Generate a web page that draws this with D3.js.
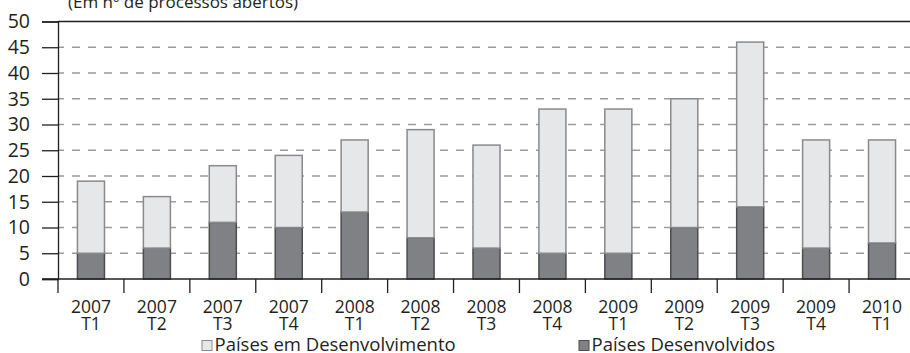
<!DOCTYPE html>
<html>
<head>
<meta charset="utf-8">
<script src="https://cdn.jsdelivr.net/npm/d3@7/dist/d3.min.js"></script>
<style>
  html, body { margin: 0; padding: 0; background: #fff; }
  svg { display: block; }
  text { font-family: "Open Sans", "Noto Sans", sans-serif; fill: #231f20; }
</style>
</head>
<body>
<svg id="chart" width="910" height="353"></svg>
<script>
// Quarters (year / quarter)
const years    = ["2007","2007","2007","2007","2008","2008","2008","2008","2009","2009","2009","2009","2010"];
const quarters = ["T1","T2","T3","T4","T1","T2","T3","T4","T1","T2","T3","T4","T1"];
// Number of opened processes
const developed  = [5, 6, 11, 10, 13, 8, 6, 5, 5, 10, 14, 6, 7];
const developing = [14, 10, 11, 14, 14, 21, 20, 28, 28, 25, 32, 21, 20];
const yTicks = [0, 5, 10, 15, 20, 25, 30, 35, 40, 45, 50];
const seriesNames = ["Países em Desenvolvimento", "Países Desenvolvidos"];
const subtitle = "(Em nº de processos abertos)";

const svg = d3.select("#chart");
const plotLeft = 58, plotRight = 915, plotTop = 21.5, plotBottom = 279;

const keys = years.map((y, i) => i);
const x = d3.scaleBand().domain(keys).range([plotLeft, plotRight]).paddingInner(0).paddingOuter(0);
const y = d3.scaleLinear().domain([0, 50]).range([plotBottom, plotTop]);

const rows = keys.map(i => ({ i, developed: developed[i], developing: developing[i] }));
const stack = d3.stack().keys(["developed", "developing"])(rows);

// subtitle
svg.append("text").attr("x", 68).attr("y", 7.5).attr("font-size", 17).text(subtitle);

// dashed grid
svg.append("g").selectAll("line")
  .data(yTicks.filter(t => t > 0 && t < 50))
  .join("line")
  .attr("x1", plotLeft).attr("x2", 910)
  .attr("y1", d => y(d)).attr("y2", d => y(d))
  .attr("stroke", "#9b9b9b").attr("stroke-width", 1.4)
  .attr("stroke-dasharray", "8,8").attr("stroke-dashoffset", 2);

// top frame line
svg.append("line").attr("x1", plotLeft).attr("x2", 910)
  .attr("y1", y(50)).attr("y2", y(50))
  .attr("stroke", "#231f20").attr("stroke-width", 1.3);

// y axis
const yAxis = d3.axisLeft(y).tickValues(yTicks).tickSize(16).tickPadding(12).tickFormat(d3.format("d"));
const gy = svg.append("g").attr("transform", `translate(${plotLeft},0)`).call(yAxis);
gy.select(".domain").attr("stroke", "#231f20").attr("stroke-width", 1.3);
gy.selectAll(".tick line").attr("stroke", "#231f20").attr("stroke-width", 1.3);
gy.selectAll(".tick text").attr("font-size", 19.5).attr("font-family", "'Open Sans', sans-serif").attr("fill", "#231f20");

// bars
const colors = { developed: "#808184", developing: "#e6e7e8" };
const strokes = { developed: "#4d4d4f", developing: "#8a8a8c" };
const bw = x.bandwidth() * 0.41;
stack.forEach(layer => {
  svg.append("g").selectAll("rect")
    .data(layer)
    .join("rect")
    .attr("x", d => x(d.data.i) + (x.bandwidth() - bw) / 2)
    .attr("width", bw)
    .attr("y", d => y(d[1]))
    .attr("height", d => y(d[0]) - y(d[1]))
    .attr("fill", colors[layer.key])
    .attr("stroke", strokes[layer.key])
    .attr("stroke-width", 1.5);
});

// x axis with category boundaries
svg.append("line").attr("x1", 42).attr("x2", 910)
  .attr("y1", plotBottom).attr("y2", plotBottom)
  .attr("stroke", "#231f20").attr("stroke-width", 1.3);
svg.append("g").selectAll("line")
  .data(keys)
  .join("line")
  .attr("x1", d => x(d)).attr("x2", d => x(d))
  .attr("y1", plotBottom).attr("y2", plotBottom + 14)
  .attr("stroke", "#231f20").attr("stroke-width", 1.3);

const labels = svg.append("g").selectAll("text")
  .data(keys)
  .join("text")
  .attr("text-anchor", "middle")
  .attr("font-size", 17.5)
  .attr("x", d => x(d) + x.bandwidth() / 2)
  .attr("y", 312.5);
labels.append("tspan").attr("x", d => x(d) + x.bandwidth() / 2).text(d => years[d]);
labels.append("tspan").attr("x", d => x(d) + x.bandwidth() / 2).attr("dy", 17).text(d => quarters[d]);

// legend
const legend = [
  { name: seriesNames[0], key: "developing", sx: 202 },
  { name: seriesNames[1], key: "developed", sx: 579 }
];
const lg = svg.append("g").selectAll("g").data(legend).join("g");
lg.append("rect")
  .attr("x", d => d.sx).attr("y", 340.5).attr("width", 10).attr("height", 10)
  .attr("fill", d => colors[d.key]).attr("stroke", d => strokes[d.key]).attr("stroke-width", 1);
lg.append("text")
  .attr("x", d => d.sx + 12.5).attr("y", 350.5)
  .attr("font-size", 18.5)
  .text(d => d.name);
</script>
</body>
</html>
